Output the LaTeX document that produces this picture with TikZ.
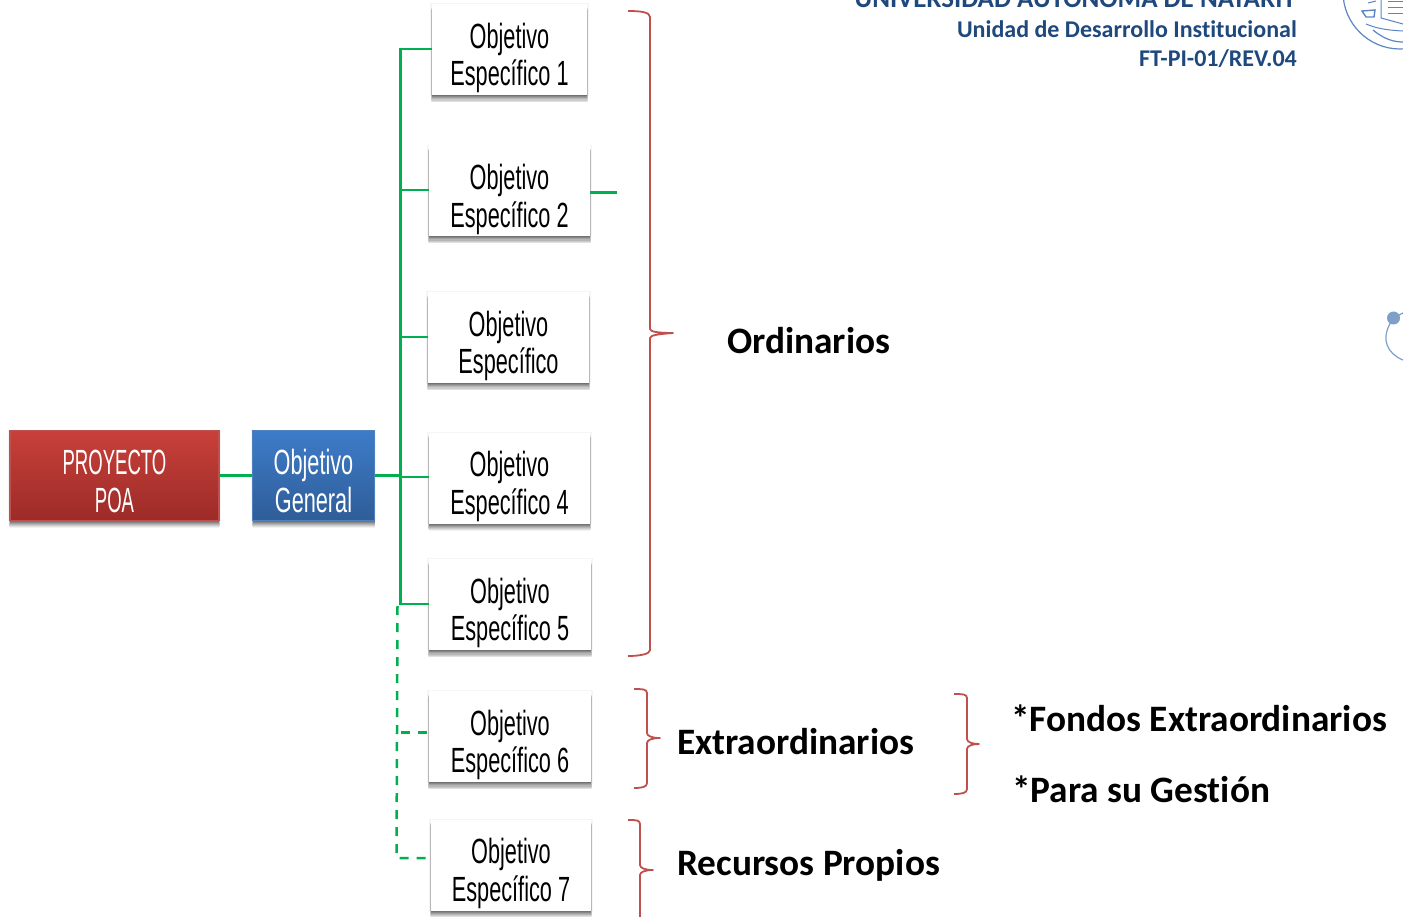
\documentclass[tikz,border=0pt]{standalone}
\usepackage{fontspec}
\usepackage{xcolor}
\setmainfont[Ligatures=NoCommon]{Carlito}
\newfontfamily\agencia[FakeStretch=0.62]{Liberation Sans}
\newfontfamily\agenciaalta[FakeStretch=0.53]{Liberation Sans}
\usetikzlibrary{
    shadows,
    calc,
    positioning
}
\definecolor{verdeuan}{HTML}{00B050}
\definecolor{rojollave}{HTML}{C0504D}
\definecolor{rojoarriba}{HTML}{C9403A}
\definecolor{rojoabajo}{HTML}{9C2B28}
\definecolor{azularriba}{HTML}{3D7CC9}
\definecolor{azulabajo}{HTML}{2F5D98}
\definecolor{azulborde}{HTML}{4F81BD}
\definecolor{azultitulo}{HTML}{1F497D}
\definecolor{azullogo}{HTML}{5B86C4}
\definecolor{azulpunto}{HTML}{7F9FC9}
\newcommand{\dosobj}[1]{\rule{0pt}{42pt}Objetivo\\#1}
\newcommand{\dosvar}[2]{\rule{0pt}{36pt}#1\\#2}
\tikzset{
    sombra/.style={
        drop shadow={shadow xshift=0pt, shadow yshift=0pt, shadow scale=1.02, fill=black, opacity=0.04},
        drop shadow={shadow xshift=0pt, shadow yshift=-7pt, shadow scale=1.0, fill=black, opacity=0.05},
        drop shadow={shadow xshift=0pt, shadow yshift=-6pt, shadow scale=1.01, fill=black, opacity=0.07},
        drop shadow={shadow xshift=0pt, shadow yshift=-5pt, shadow scale=1.01, fill=black, opacity=0.09},
        drop shadow={shadow xshift=0pt, shadow yshift=-4pt, shadow scale=1.01, fill=black, opacity=0.10},
        drop shadow={shadow xshift=0pt, shadow yshift=-3pt, shadow scale=1.0, fill=black, opacity=0.12},
        drop shadow={shadow xshift=0pt, shadow yshift=-2pt, shadow scale=1.0, fill=black, opacity=0.14},
        drop shadow={shadow xshift=0pt, shadow yshift=-1pt, shadow scale=1.0, fill=black, opacity=0.14}
    },
    cajaobj/.style={
        sombra, fill=white, align=center, inner sep=0pt,
        minimum height=91pt,
        font=\agencia\fontsize{35}{37.5}\selectfont
    },
    cajaproy/.style={
        sombra, draw=rojollave, line width=1.2pt, top color=rojoarriba, bottom color=rojoabajo,
        text=white, align=center, inner sep=0pt,
        minimum width=209pt, minimum height=90pt,
        font=\agenciaalta\fontsize{35}{37.5}\selectfont
    },
    cajagen/.style={
        sombra, draw=azulborde, line width=1.2pt, top color=azularriba, bottom color=azulabajo,
        text=white, align=center, inner sep=0pt,
        minimum width=122pt, minimum height=90pt,
        font=\agencia\fontsize{35}{37.5}\selectfont
    },
    linea/.style={draw=verdeuan, line width=2.5pt},
    lineap/.style={draw=verdeuan, line width=2.5pt, dash pattern=on 9pt off 8pt},
    llave/.style={draw=rojollave, line width=1.8pt, line join=round},
    grande/.style={anchor=base west, inner sep=0pt, font=\bfseries\fontsize{37.3}{37.3}\selectfont},
    titulo/.style={anchor=base east, inner sep=0pt, text=azultitulo, font=\bfseries\fontsize{24}{24}\selectfont}
}
\begin{document}
\begin{tikzpicture}[x=1pt, y=-1pt]
    \clip (0, 0) rectangle (1403, 917);
    \fill[white] (0, 0) rectangle (1403, 917);

    \node[cajaproy] (proyecto) at (114.5, 475.5) {\dosvar{PROYECTO}{POA}};
    \node[cajagen] (general) at (313.5, 475.5) {\dosvar{Objetivo}{General}};

    \node[cajaobj, minimum width=155pt] (obj1) at (509.5, 49.5) {\dosobj{Específico 1}};
    \node[cajaobj, minimum width=161pt] (obj2) at (509.5, 191) {\dosobj{Específico 2}};
    \node[cajaobj, minimum width=161pt] (obj3) at (508.5, 337.5) {\dosobj{Específico}};
    \node[cajaobj, minimum width=161pt] (obj4) at (509.5, 478) {\dosobj{Específico 4}};
    \node[cajaobj, minimum width=162pt] (obj5) at (510, 604.5) {\dosobj{Específico 5}};
    \node[cajaobj, minimum width=162pt] (obj6) at (510, 736.5) {\dosobj{Específico 6}};
    \node[cajaobj, minimum width=160pt] (obj7) at (511, 865) {\dosobj{Específico 7}};

    \coordinate (tronco1) at (400.5, 49);
    \coordinate (tronco2) at (400.5, 190);
    \coordinate (tronco3) at (400.5, 337);
    \coordinate (tronco4) at (400.5, 477);
    \coordinate (tronco5) at (400.5, 604);
    \coordinate (puntos0) at (397.5, 606);
    \coordinate (puntos6) at (397, 732.5);
    \coordinate (puntos7) at (396.5, 858);
    \coordinate (suelto) at (616.5, 192.5);

    \draw[linea] (proyecto.east) -- (general.west);
    \draw[linea] (general.east) -- (general.east -| tronco4);
    \draw[linea] (obj1.west |- tronco1) -- (tronco1) -- (tronco5) -- (obj5.west |- tronco5);
    \draw[linea] (tronco2) -- (obj2.west |- tronco2);
    \draw[linea] (tronco3) -- (obj3.west |- tronco3);
    \draw[linea] (tronco4) -- (obj4.west |- tronco4);
    \draw[linea] (obj2.east |- suelto) -- (suelto);
    \draw[lineap] (puntos0) -- (puntos7) -- (obj7.west |- puntos7);
    \draw[lineap] (puntos6) ++(4, 0) -- (obj6.west |- puntos6);

    \draw[llave] (628, 11) .. controls (640, 11) and (650, 12) .. (650, 17) -- (650, 329)
        .. controls (650, 332) and (660, 333) .. (673, 333)
        .. controls (660, 334) and (650, 335) .. (650, 338) -- (650, 650)
        .. controls (650, 654) and (640, 656) .. (628, 656);
    \draw[llave] (634, 689) .. controls (642, 689) and (647, 689) .. (647, 693) -- (647, 733)
        .. controls (647, 736) and (652, 738) .. (660, 738)
        .. controls (652, 738) and (647, 740) .. (647, 743) -- (647, 783)
        .. controls (647, 787) and (642, 788) .. (634, 788);
    \draw[llave] (954, 694) .. controls (962, 694) and (967, 694) .. (967, 698) -- (967, 739)
        .. controls (967, 742) and (972, 744) .. (979, 744)
        .. controls (972, 744) and (967, 746) .. (967, 749) -- (967, 789)
        .. controls (967, 793) and (962, 794) .. (954, 794);
    \draw[llave] (628, 820) .. controls (636, 820) and (640, 820) .. (640, 824) -- (640, 865)
        .. controls (640, 868) and (645, 870) .. (653, 870)
        .. controls (645, 870) and (640, 872) .. (640, 875) -- (640, 920);

    \node[grande] (ordinarios) at (727, 353) {Ordinarios};
    \node[grande] (extra) at (677, 754) {Extraordinarios};
    \node[grande] (propios) at (677, 875) {Recursos Propios};
    \node[grande] (fondos) at (1011, 731) {*Fondos Extraordinarios};
    \node[grande] (gestion) at (1012, 802) {*Para su Gestión};

    \node[titulo, font=\bfseries\fontsize{27}{27}\selectfont] (uni) at (1296, 8) {UNIVERSIDAD AUTÓNOMA DE NAYARIT};
    \node[titulo] (unidad) at (1297, 38) {Unidad de Desarrollo Institucional};
    \node[titulo] (clave) at (1297, 67) {FT-PI-01/REV.04};

    \draw[azullogo, line width=1.2pt] (1400, -8) circle (57);
    \draw[azullogo, line width=1.2pt] (1373, 30) .. controls (1385, 40) and (1395, 42) .. (1403, 42);
    \draw[azullogo, line width=1.4pt] (1362, 11) -- (1375, 10) -- (1374, 17) -- (1366, 17) -- cycle;
    \draw[azullogo, line width=1pt] (1381, -2) -- (1381, 18) -- (1403, 24);
    \draw[azullogo, line width=1pt] (1388, 2) -- (1403, 2) (1388, 8) -- (1403, 8) (1388, 14) -- (1403, 14);
    \draw[azullogo, line width=1pt] (1368, 3) -- (1376, 1) (1366, 24) .. controls (1376, 28) and (1384, 30) .. (1403, 31);

    \draw[azulpunto, line width=1.2pt] (1393, 318) -- (1403, 313);
    \draw[azulpunto, line width=1.2pt] (1391, 322) .. controls (1380, 340) and (1388, 354) .. (1403, 360);
    \fill[azulpunto] (1393.5, 318) circle (6.5);
\end{tikzpicture}
\end{document}
